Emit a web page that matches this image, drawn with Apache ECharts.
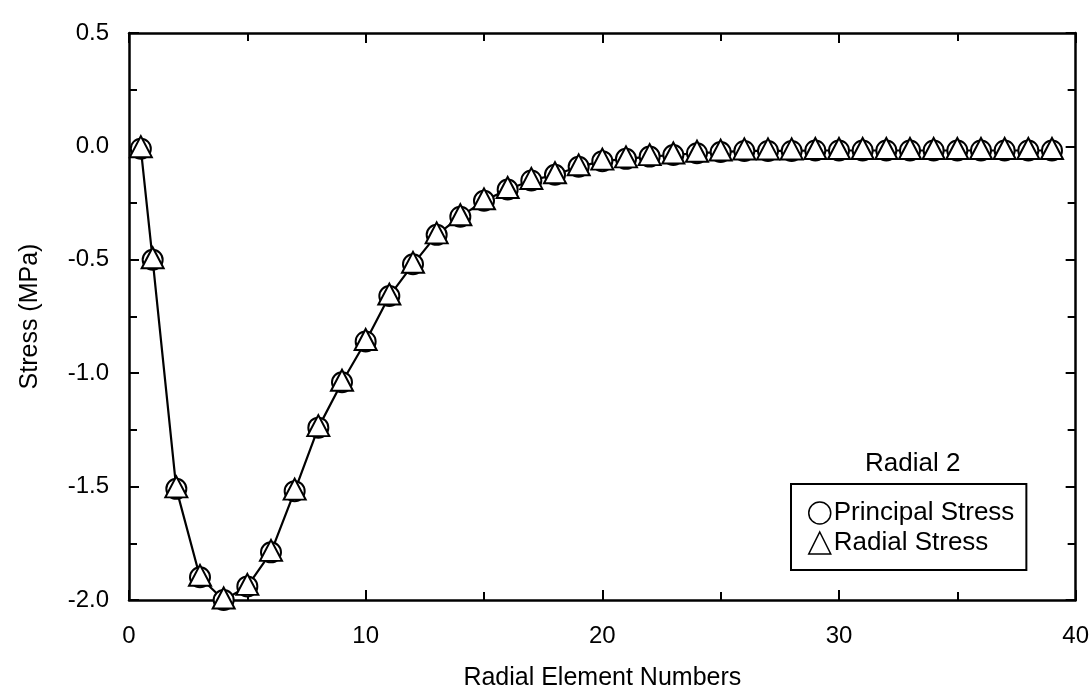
<!DOCTYPE html>
<html>
<head>
<meta charset="utf-8">
<script src="https://cdn.jsdelivr.net/npm/echarts@6/dist/echarts.min.js"></script>
<style>
  html, body { margin: 0; padding: 0; background: #fff; }
  #chart { width: 1092px; height: 697px; }
</style>
</head>
<body>
<div id="chart"></div>
<script>
// Radial element numbers (x)
const elementNumbers = [0.5, 1, 2, 3, 4, 5, 6, 7, 8, 9, 10, 11, 12, 13, 14, 15, 16, 17, 18, 19, 20,
  21, 22, 23, 24, 25, 26, 27, 28, 29, 30, 31, 32, 33, 34, 35, 36, 37, 38, 39];
// Principal stress (MPa)
const principalStress = [-0.01, -0.50, -1.51, -1.90, -2.00, -1.94, -1.79, -1.52, -1.24, -1.04, -0.86,
  -0.66, -0.52, -0.39, -0.31, -0.24, -0.19, -0.15, -0.125, -0.09, -0.065,
  -0.055, -0.045, -0.038, -0.03, -0.025, -0.02, -0.02, -0.02, -0.018, -0.018,
  -0.018, -0.018, -0.018, -0.018, -0.018, -0.018, -0.018, -0.018, -0.018];
// Radial stress (MPa)
const radialStress = [-0.01, -0.50, -1.51, -1.90, -2.00, -1.94, -1.79, -1.52, -1.24, -1.04, -0.86,
  -0.66, -0.52, -0.39, -0.31, -0.24, -0.19, -0.15, -0.125, -0.09, -0.065,
  -0.055, -0.045, -0.038, -0.03, -0.025, -0.02, -0.02, -0.02, -0.018, -0.018,
  -0.018, -0.018, -0.018, -0.018, -0.018, -0.018, -0.018, -0.018, -0.018];
const seriesNames = ['Principal Stress', 'Radial Stress'];
const legendTitle = 'Radial 2';
const xTitle = 'Radial Element Numbers';
const yTitle = 'Stress (MPa)';

const FONT = "'Liberation Sans', Arial, Helvetica, sans-serif";
const chart = echarts.init(document.getElementById('chart'), null, { renderer: 'canvas' });

const axisLineStyle = { color: '#000', width: 2.5 };
const tickStyle = { color: '#000', width: 2 };

function xAxisDef(pos, showLabels) {
  return {
    type: 'value', position: pos, min: 0, max: 40, interval: 10,
    axisLine: { show: true, onZero: false, lineStyle: axisLineStyle },
    axisTick: { show: true, inside: true, length: 10, lineStyle: tickStyle },
    minorTick: { show: true, splitNumber: 2, length: 8, lineStyle: tickStyle },
    splitLine: { show: false }, minorSplitLine: { show: false },
    axisLabel: { show: showLabels, fontSize: 24, color: '#000', fontFamily: FONT, margin: 24 },
    name: showLabels ? xTitle : '',
    nameLocation: 'middle', nameGap: 66,
    nameTextStyle: { fontSize: 25, color: '#000', fontFamily: FONT }
  };
}
function yAxisDef(pos, showLabels) {
  return {
    type: 'value', position: pos, min: -2, max: 0.5, interval: 0.5,
    axisLine: { show: true, onZero: false, lineStyle: axisLineStyle },
    axisTick: { show: true, inside: true, length: 10, lineStyle: tickStyle },
    minorTick: { show: true, splitNumber: 2, length: 8, lineStyle: tickStyle },
    splitLine: { show: false }, minorSplitLine: { show: false },
    axisLabel: { show: showLabels, fontSize: 24, color: '#000', fontFamily: FONT, margin: 20,
      formatter: v => v.toFixed(1) },
    name: showLabels ? yTitle : '',
    nameLocation: 'middle', nameGap: 86, nameRotate: 90,
    nameTextStyle: { fontSize: 25, color: '#000', fontFamily: FONT }
  };
}

const hollow = { color: '#fff', borderColor: '#000', borderWidth: 1.5 };

chart.setOption({
  animation: false,
  backgroundColor: '#fff',
  textStyle: { fontFamily: FONT },
  grid: { left: 129, right: 15, top: 33, bottom: 97, containLabel: false },
  title: {
    text: legendTitle, left: 865, top: 451, padding: 0,
    textStyle: { fontSize: 26, fontWeight: 'normal', color: '#000', fontFamily: FONT }
  },
  legend: {
    orient: 'vertical', left: 791, top: 484,
    borderColor: '#000', borderWidth: 2, padding: [16, 12, 14, 17],
    itemGap: 4, itemWidth: 22, itemHeight: 22,
    textStyle: { fontSize: 26, color: '#000', fontFamily: FONT, padding: [0, 0, 0, -2] },
    data: [
      { name: seriesNames[0], icon: 'circle', itemStyle: hollow },
      { name: seriesNames[1], icon: 'triangle', itemStyle: hollow }
    ]
  },
  xAxis: [xAxisDef('bottom', true), xAxisDef('top', false)],
  yAxis: [yAxisDef('left', true), yAxisDef('right', false)],
  series: [
    {
      name: seriesNames[0], type: 'line', xAxisIndex: 0, yAxisIndex: 0,
      data: elementNumbers.map((x, i) => [x, principalStress[i]]),
      symbol: 'circle', symbolSize: 20, showAllSymbol: true,
      lineStyle: { color: '#000', width: 2.2 },
      itemStyle: { color: '#fff', borderColor: '#000', borderWidth: 2 },
      clip: false
    },
    {
      name: seriesNames[1], type: 'line', xAxisIndex: 0, yAxisIndex: 0,
      data: elementNumbers.map((x, i) => [x, radialStress[i]]),
      symbol: 'triangle', symbolSize: [22, 21], symbolOffset: [0, -2], showAllSymbol: true,
      lineStyle: { color: '#000', width: 0, opacity: 0 },
      itemStyle: { color: '#fff', borderColor: '#000', borderWidth: 2 },
      clip: false
    }
  ]
});
</script>
</body>
</html>
